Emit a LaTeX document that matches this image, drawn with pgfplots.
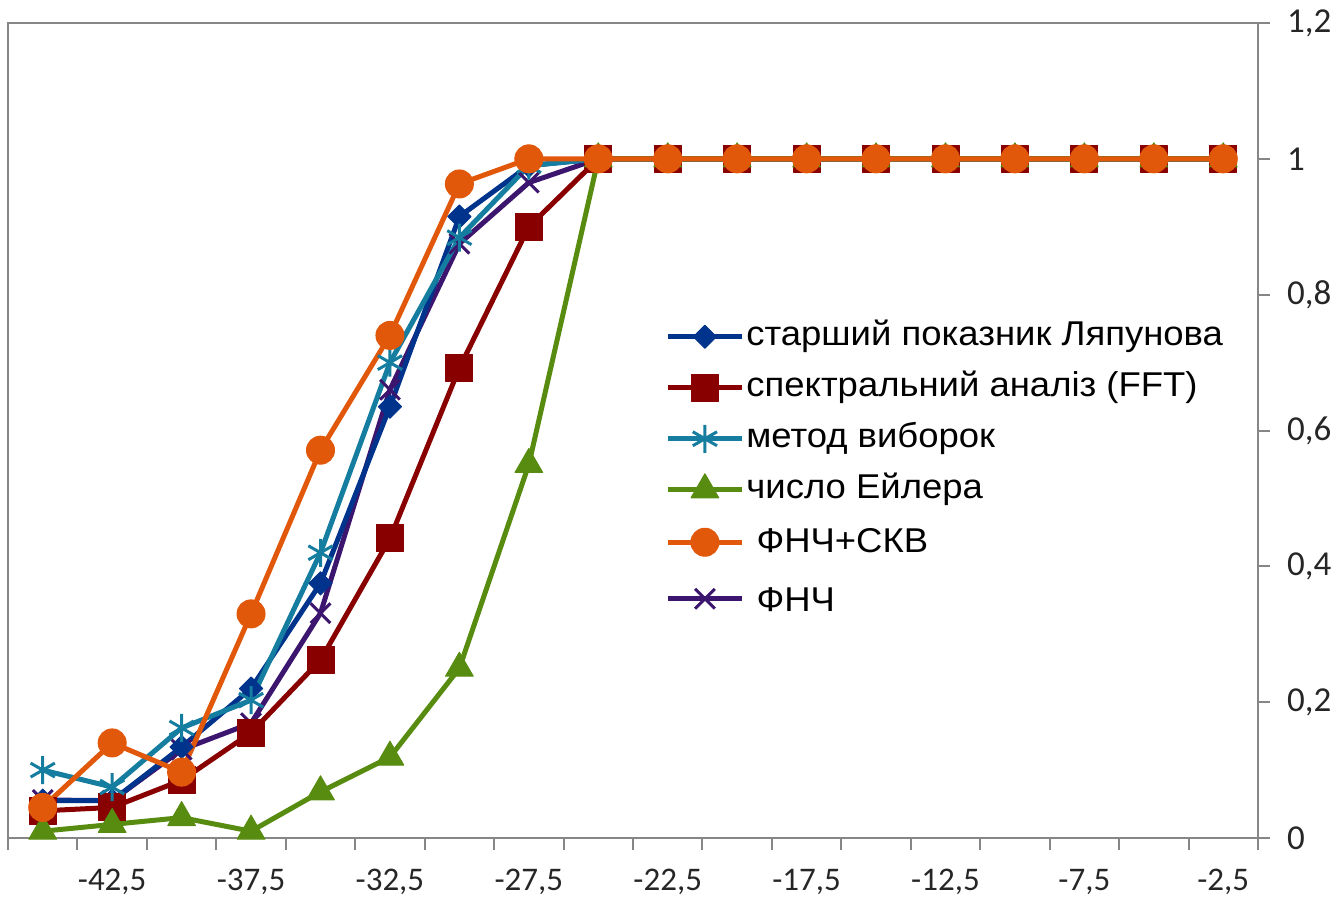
\documentclass[border=0pt]{standalone}
\usepackage{pgfplots}
\pgfplotsset{compat=1.18}
\usepackage{fontspec}
\setmainfont{Carlito}
\newfontfamily\legfont{Liberation Sans}[FakeStretch=1.06]
\definecolor{cBlue}{RGB}{0,52,140}
\definecolor{cRed}{RGB}{136,0,0}
\definecolor{cTeal}{RGB}{20,125,160}
\definecolor{cGreen}{RGB}{88,140,16}
\definecolor{cOrange}{RGB}{226,88,10}
\definecolor{cPurple}{RGB}{60,22,110}
\definecolor{cFrame}{RGB}{134,134,134}
\begin{document}
\begin{tikzpicture}
\useasboundingbox (0,0) rectangle (670.5pt,451pt);
\begin{axis}[
  at={(4pt,32pt)}, anchor=south west,
  scale only axis, width=625pt, height=407.5pt,
  xmin=-46.25, xmax=-1.25, ymin=0, ymax=1.2,
  clip=false,
  xtick={-42.5,-37.5,-32.5,-27.5,-22.5,-17.5,-12.5,-7.5,-2.5},
  xticklabels={{-42,5},{-37,5},{-32,5},{-27,5},{-22,5},{-17,5},{-12,5},{-7,5},{-2,5}},
  minor xtick={-46.25,-43.75,-41.25,-38.75,-36.25,-33.75,-31.25,-28.75,-26.25,-23.75,-21.25,-18.75,-16.25,-13.75,-11.25,-8.75,-6.25,-3.75,-1.25},
  ytick={0,0.2,0.4,0.6,0.8,1,1.2},
  yticklabels={0,{0,2},{0,4},{0,6},{0,8},1,{1,2}},
  xtick pos=bottom, ytick pos=right, yticklabel pos=right,
  tick align=outside, major tick length=6pt, minor tick length=6pt,
  tick style={cFrame, line width=1pt},
  major x tick style={draw=none},
  axis line style={cFrame, line width=1pt},
  ticklabel style={font=\fontsize{16.5}{18}\selectfont, text=black!85},
  /pgf/number format/assume math mode=true,
  yticklabel style={anchor=west, xshift=5pt, font=\fontsize{17.5}{19}\selectfont},
  xticklabel style={yshift=-6pt},
  legend style={at={(0.5256,0.637)}, anchor=north west, draw=none, fill=none,
    font=\legfont\fontsize{17.2}{20}\selectfont, inner sep=0pt, row sep=8pt,
    nodes={inner sep=1pt, text height=12pt, text depth=3.5pt}},
  legend cell align=left,
  legend image code/.code={\draw[mark repeat=2,mark phase=2,#1] plot coordinates {(0pt,0pt) (18.5pt,0pt) (37pt,0pt)};},
  every axis plot/.append style={line width=2.5pt, line join=round},
]
\addplot[cPurple, mark=x, mark size=7pt, mark options={line width=1.5pt}, forget plot] coordinates {
(-45,0.056) (-42.5,0.055) (-40,0.13) (-37.5,0.169) (-35,0.331) (-32.5,0.66) (-30,0.875) (-27.5,0.965) (-25,1) (-22.5,1) (-20,1) (-17.5,1) (-15,1) (-12.5,1) (-10,1) (-7.5,1) (-5,1) (-2.5,1)};
\addplot[cBlue, mark=square*, mark size=4.1pt, mark options={rotate=45, line width=0.5pt}] coordinates {
(-45,0.055) (-42.5,0.055) (-40,0.134) (-37.5,0.22) (-35,0.375) (-32.5,0.635) (-30,0.915) (-27.5,0.99) (-25,1) (-22.5,1) (-20,1) (-17.5,1) (-15,1) (-12.5,1) (-10,1) (-7.5,1) (-5,1) (-2.5,1)};
\addlegendentry{старший показник Ляпунова}
\addplot[cRed, mark=square*, mark size=6.75pt, mark options={line width=0.5pt}] coordinates {
(-45,0.04) (-42.5,0.045) (-40,0.085) (-37.5,0.155) (-35,0.262) (-32.5,0.441) (-30,0.692) (-27.5,0.90) (-25,1) (-22.5,1) (-20,1) (-17.5,1) (-15,1) (-12.5,1) (-10,1) (-7.5,1) (-5,1) (-2.5,1)};
\addlegendentry{спектральний аналіз (FFT)}
\addplot[cTeal, mark=asterisk, mark size=7pt, mark options={line width=1.5pt}] coordinates {
(-45,0.10) (-42.5,0.075) (-40,0.162) (-37.5,0.203) (-35,0.42) (-32.5,0.70) (-30,0.884) (-27.5,0.99) (-25,1) (-22.5,1) (-20,1) (-17.5,1) (-15,1) (-12.5,1) (-10,1) (-7.5,1) (-5,1) (-2.5,1)};
\addlegendentry{метод виборок}
\addplot[cGreen, mark=triangle*, mark size=8pt, mark options={line width=0.5pt}] coordinates {
(-45,0.01) (-42.5,0.02) (-40,0.03) (-37.5,0.01) (-35,0.068) (-32.5,0.119) (-30,0.25) (-27.5,0.55) (-25,1) (-22.5,1) (-20,1) (-17.5,1) (-15,1) (-12.5,1) (-10,1) (-7.5,1) (-5,1) (-2.5,1)};
\addlegendentry{число Ейлера}
\addplot[cOrange, mark=*, mark size=7pt, mark options={line width=0.5pt}] coordinates {
(-45,0.045) (-42.5,0.14) (-40,0.097) (-37.5,0.33) (-35,0.571) (-32.5,0.74) (-30,0.963) (-27.5,1.0) (-25,1) (-22.5,1) (-20,1) (-17.5,1) (-15,1) (-12.5,1) (-10,1) (-7.5,1) (-5,1) (-2.5,1)};
\addlegendentry[text height=13.5pt]{\ ФНЧ+СКВ}
\addlegendimage{cPurple, line width=2.5pt, mark=x, mark size=7pt, mark options={line width=1.5pt}}
\addlegendentry[text height=16pt]{\ ФНЧ}
\end{axis}
\end{tikzpicture}
\end{document}
